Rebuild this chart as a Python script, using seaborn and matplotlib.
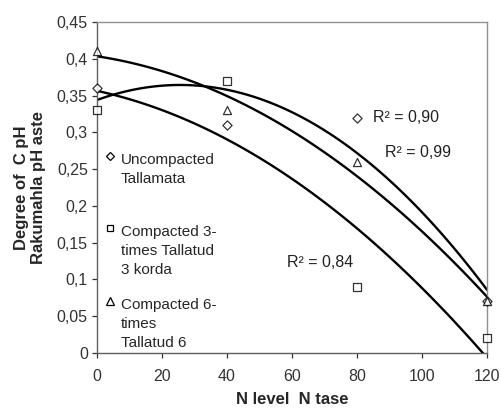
"""Degree of C pH vs N level with quadratic trendlines."""

import matplotlib.pyplot as plt
import numpy as np
import seaborn as sns
from matplotlib.lines import Line2D
from matplotlib.ticker import FuncFormatter

n_level = [0, 40, 80, 120]
uncompacted = [0.36, 0.31, 0.32, 0.07]
compacted_3 = [0.33, 0.37, 0.09, 0.02]
compacted_6 = [0.41, 0.33, 0.26, 0.07]

series_labels = [
    "Uncompacted\nTallamata",
    "Compacted 3-\ntimes Tallatud\n3 korda",
    "Compacted 6-\ntimes\nTallatud 6",
]
series_markers = ["D", "s", "^"]
r2_labels = ["R² = 0,90", "R² = 0,84", "R² = 0,99"]
r2_pos = [(85, 0.314), (58.5, 0.117), (88.5, 0.266)]

sns.set_theme(style="white")
plt.rcParams["font.family"] = ["Liberation Sans", "DejaVu Sans"]

fig = plt.figure(figsize=(5.02, 4.09), dpi=100)
ax = fig.add_axes([0.193, 0.137, 0.777, 0.809])

marker_sizes = [22, 30, 34]
for ys, mk, ms in zip([uncompacted, compacted_3, compacted_6], series_markers, marker_sizes):
    sns.regplot(
        x=n_level, y=ys, order=2, ci=None, ax=ax, marker=mk,
        scatter_kws=dict(s=ms, facecolors="white", edgecolors="black", linewidths=0.9, zorder=3),
        line_kws=dict(color="black", lw=1.7),
    )
for coll in ax.collections:
    coll.set_clip_on(False)

for txt, (x, y) in zip(r2_labels, r2_pos):
    ax.text(x, y, txt, fontsize=11.5, va="baseline", ha="left", color="#222222")

ax.set_xlim(0, 120)
ax.set_ylim(0, 0.45)
ax.set_xticks(range(0, 121, 20))
ax.set_yticks(np.arange(0, 0.451, 0.05))
ax.yaxis.set_major_formatter(FuncFormatter(lambda v, p: "0" if v == 0 else f"{v:.2f}".rstrip("0").replace(".", ",")))
ax.tick_params(axis="both", labelsize=11.5, colors="#333333", length=3.5, width=0.9, direction="out")
ax.tick_params(axis="x", pad=8)
ax.tick_params(axis="y", pad=3)
ax.tick_params(left=True, bottom=True)
for side in ["left", "bottom"]:
    ax.spines[side].set_color("#606060")
for side in ["top", "right"]:
    ax.spines[side].set_color("#909090")
for sp in ax.spines.values():
    sp.set_linewidth(1)

ax.set_xlabel("N level  N tase", fontsize=12, fontweight="bold", labelpad=6)
ylab = ax.set_ylabel("Degree of  C pH\nRakumahla pH aste", fontsize=12, fontweight="bold", labelpad=8)
ylab.set_linespacing(1.15)

handles = [
    Line2D([], [], ls="none", marker=mk, markersize=s, mfc="white", mec="black", mew=0.9)
    for mk, s in zip(series_markers, [4.2, 5, 5.5])
]
# first entry sits higher in the original, so give it an empty trailing line
legend_texts = [series_labels[0] + "\n"] + series_labels[1:]
leg = ax.legend(
    handles, legend_texts, loc="lower left", bbox_to_anchor=(0.02, 0.01),
    frameon=False, fontsize=11, handlelength=0.75, handletextpad=0.3,
    labelspacing=1.35, borderpad=0, borderaxespad=0,
)
line_pt = 16.5
for t, h, lab in zip(leg.get_texts(), leg.legend_handles, legend_texts):
    t.set_linespacing(1.45)
    n = lab.count("\n")
    h.set_ydata(np.asarray(h.get_ydata()) + n * line_pt / 2)

fig.savefig("out.png", dpi=100)
plt.close(fig)
